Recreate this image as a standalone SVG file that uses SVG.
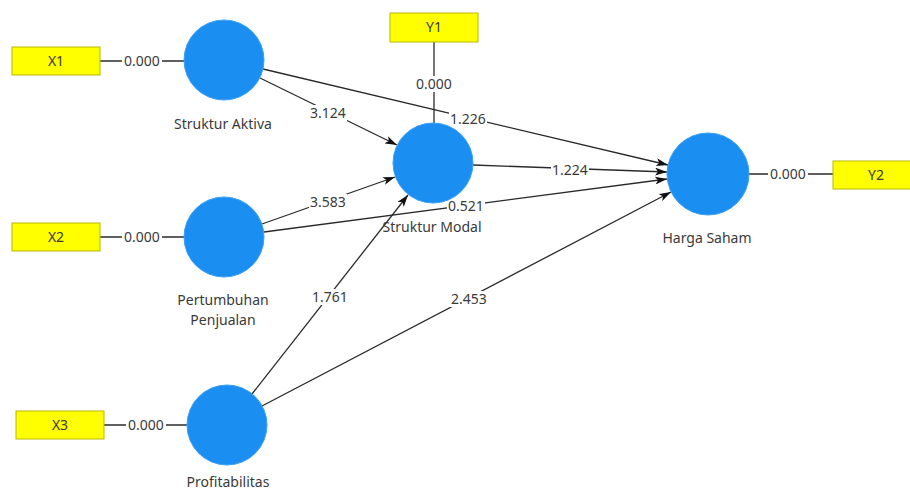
<svg xmlns="http://www.w3.org/2000/svg" width="910" height="492" viewBox="0 0 910 492">
<defs>
<style>
.lv{fill:#1b8ef2;stroke:#3aa0f7;stroke-width:1}
.ind{fill:#ffff00;stroke:#b8b800;stroke-width:1}
.t{font-family:"Noto Sans","Open Sans",sans-serif;font-size:14px;fill:#3a3a3a;text-anchor:middle}
.bg{fill:#ffffff}
.ln{stroke:#2a2a2a;stroke-width:1.3;fill:none}
.arr{stroke:#2a2a2a;stroke-width:1.3;fill:none;marker-end:url(#ah)}
</style>
<marker id="ah" viewBox="0 0 12 8" refX="12" refY="4" markerWidth="12" markerHeight="8" markerUnits="userSpaceOnUse" orient="auto">
<path d="M0,0 L12,4 L0,8 L3,4 z" fill="#111"/>
</marker>
</defs>
<rect width="910" height="492" fill="#ffffff"/>
<g id="connectors">
<line class="ln" x1="100" y1="61" x2="184" y2="61"/>
<line class="ln" x1="100" y1="237" x2="184" y2="237"/>
<line class="ln" x1="104" y1="425" x2="187" y2="425"/>
<line class="ln" x1="434" y1="42" x2="434" y2="123"/>
<line class="ln" x1="749" y1="174" x2="833" y2="174"/>
<line class="arr" x1="263" y1="69" x2="668" y2="165"/>
<line class="arr" x1="260" y1="78" x2="397" y2="145"/>
<line class="arr" x1="473" y1="165" x2="667" y2="172"/>
<line class="arr" x1="262" y1="224" x2="395" y2="177"/>
<line class="arr" x1="264" y1="232" x2="667" y2="179"/>
<line class="arr" x1="252" y1="394" x2="408" y2="195"/>
<line class="arr" x1="262" y1="406" x2="671" y2="192"/>
<rect class="bg" x="122" y="53" width="40" height="16"/><text class="t" x="142" y="66">0.000</text>
<rect class="bg" x="122" y="229" width="40" height="16"/><text class="t" x="142" y="242">0.000</text>
<rect class="bg" x="126" y="417" width="40" height="16"/><text class="t" x="146" y="430">0.000</text>
<rect class="bg" x="414" y="76" width="40" height="16"/><text class="t" x="434" y="89">0.000</text>
<rect class="bg" x="768" y="166" width="40" height="16"/><text class="t" x="788" y="179">0.000</text>
<rect class="bg" x="449" y="111" width="38" height="16"/><text class="t" x="468" y="124">1.226</text>
<rect class="bg" x="309" y="105" width="38" height="16"/><text class="t" x="328" y="118">3.124</text>
<rect class="bg" x="551" y="162" width="38" height="16"/><text class="t" x="570" y="175">1.224</text>
<rect class="bg" x="309" y="194" width="38" height="16"/><text class="t" x="328" y="207">3.583</text>
<rect class="bg" x="447" y="198" width="38" height="16"/><text class="t" x="466" y="211">0.521</text>
<rect class="bg" x="311" y="289" width="38" height="16"/><text class="t" x="330" y="302">1.761</text>
<rect class="bg" x="450" y="291" width="38" height="16"/><text class="t" x="469" y="304">2.453</text>
</g>
<g id="X1"><rect class="ind" x="12" y="47" width="88" height="28"/><text class="t" x="56" y="66">X1</text></g>
<g id="X2"><rect class="ind" x="12" y="223" width="88" height="28"/><text class="t" x="56" y="242">X2</text></g>
<g id="X3"><rect class="ind" x="16" y="411" width="88" height="28"/><text class="t" x="60" y="430">X3</text></g>
<g id="Y1"><rect class="ind" x="390" y="13" width="88" height="29"/><text class="t" x="434" y="32">Y1</text></g>
<g id="Y2"><rect class="ind" x="833" y="161" width="88" height="28"/><text class="t" x="876" y="180">Y2</text></g>
<g id="StrukturAktiva"><circle class="lv" cx="224" cy="60" r="40"/><text class="t" x="223" y="129">Struktur Aktiva</text></g>
<g id="StrukturModal"><circle class="lv" cx="433" cy="163" r="40"/><text class="t" x="432" y="232">Struktur Modal</text></g>
<g id="HargaSaham"><circle class="lv" cx="708" cy="174" r="41"/><text class="t" x="707" y="243">Harga Saham</text></g>
<g id="PertumbuhanPenjualan"><circle class="lv" cx="224" cy="237" r="40"/><text class="t" x="223" y="305">Pertumbuhan</text><text class="t" x="223" y="325">Penjualan</text></g>
<g id="Profitabilitas"><circle class="lv" cx="227" cy="425" r="40"/><text class="t" x="228" y="487">Profitabilitas</text></g>
</svg>
